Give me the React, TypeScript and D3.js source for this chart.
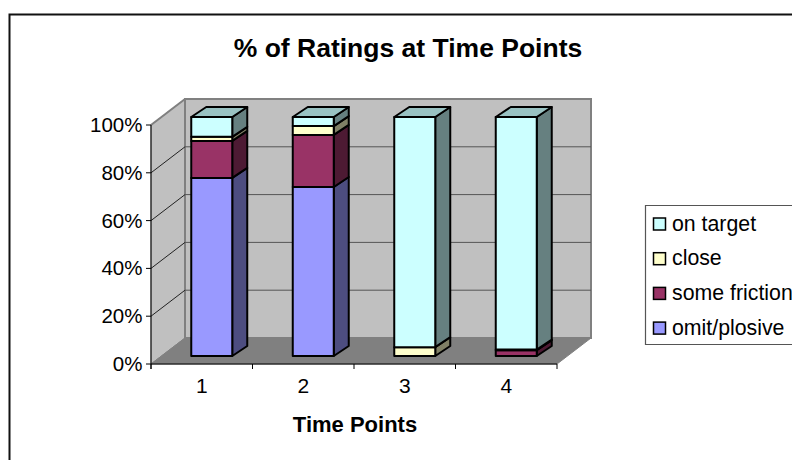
import React from "react";
import * as d3 from "d3";

const categories = ["1", "2", "3", "4"];
const seriesNames = ["omit/plosive", "some friction", "close", "on target"];
const omitPlosive = [74.5, 70.7, 0, 0];
const someFriction = [15.5, 21.8, 0, 2.4];
const close = [1.7, 3.7, 3.7, 0.3];
const onTarget = [8.3, 3.8, 96.3, 97.3];
const yTicks = [0, 20, 40, 60, 80, 100];

const frontColors = ["#9999ff", "#993366", "#ffffcc", "#ccffff"];
const sideColors = ["#4d4d80", "#4d1a33", "#808066", "#668080"];
const topColors = ["#9999cc", "#7a2952", "#cccca3", "#99c2c2"];

const W = 792;
const H = 460;
const depthX = 34;
const depthY = -26;
const barDepthX = 15;
const barDepthY = -10;
const barShift = 10;

export default function App() {
  const x = d3.scaleBand<string>().domain(categories).range([151, 557]).paddingInner(0).paddingOuter(0);
  const axisY = d3.scaleLinear().domain([0, 100]).range([364, 125]);
  const barY = d3.scaleLinear().domain([0, 100]).range([356, 117]);
  const barWidth = 41;

  const rows = categories.map((c, i) => ({
    c,
    omit: omitPlosive[i],
    friction: someFriction[i],
    close: close[i],
    target: onTarget[i],
  }));
  const stacked = d3.stack<any>().keys(["omit", "friction", "close", "target"])(rows);

  const x0 = x.range()[0];
  const x1 = x.range()[1];
  const y0 = axisY(0);
  const y100 = axisY(100);
  const poly = (pts: [number, number][]) => pts.map((p) => p.join(",")).join(" ");

  const legendRows = [3, 2, 1, 0];

  return (
    <svg
      width={W}
      height={H}
      style={{ position: "absolute", left: 0, top: 0, fontFamily: "'Liberation Sans', Arial, sans-serif" }}
    >
      <rect width={W} height={H} fill="#fff" />
      <path d={`M9.5,${H} V14.5 H${W}`} fill="none" stroke="#111" strokeWidth={2} />

      <text x={408} y={57} textAnchor="middle" fontSize={26.5} fontWeight="bold" fill="#000">
        % of Ratings at Time Points
      </text>

      {/* Side wall, back wall and floor of the 3D plot */}
      <polygon
        points={poly([[x0, y0], [x0 + depthX, y0 + depthY], [x0 + depthX, y100 + depthY], [x0, y100]])}
        fill="#c0c0c0"
        stroke="#808080"
      />
      <polygon
        points={poly([[x0 + depthX, y0 + depthY], [x1 + depthX, y0 + depthY], [x1 + depthX, y100 + depthY], [x0 + depthX, y100 + depthY]])}
        fill="#c0c0c0"
        stroke="#808080"
        strokeWidth={2}
      />
      <polygon
        points={poly([[x0, y0], [x1, y0], [x1 + depthX, y0 + depthY], [x0 + depthX, y0 + depthY]])}
        fill="#808080"
        stroke="#808080"
      />

      {/* Gridlines wrapping from the side wall onto the back wall */}
      {yTicks.slice(1, -1).map((t) => (
        <g key={t} fill="none">
          <line x1={x0} y1={axisY(t)} x2={x0 + depthX} y2={axisY(t) + depthY} stroke="#222" />
          <line x1={x0 + depthX} y1={axisY(t) + depthY} x2={x1 + depthX} y2={axisY(t) + depthY} stroke="#555" />
        </g>
      ))}
      <line x1={x0} y1={y100} x2={x0 + depthX} y2={y100 + depthY} stroke="#808080" strokeWidth={2} />

      {/* Stacked 3D columns */}
      {stacked.map((layer, s) =>
        layer.map((d, i) => {
          if (d[1] - d[0] <= 0) return null;
          const left = x(categories[i])! + (x.bandwidth() - barWidth) / 2 + barShift;
          const right = left + barWidth;
          const b = barY(d[0]);
          const t = barY(d[1]);
          const isTop = d[1] >= 99.95;
          return (
            <g key={`${s}-${i}`} stroke="#000" strokeWidth={2} strokeLinejoin="round">
              <polygon
                points={poly([[right, b], [right + barDepthX, b + barDepthY], [right + barDepthX, t + barDepthY], [right, t]])}
                fill={sideColors[s]}
              />
              {isTop && (
                <polygon
                  points={poly([[left, t], [right, t], [right + barDepthX, t + barDepthY], [left + barDepthX, t + barDepthY]])}
                  fill={topColors[s]}
                />
              )}
              <rect x={left} y={t} width={barWidth} height={b - t} fill={frontColors[s]} />
            </g>
          );
        })
      )}

      {/* Value axis */}
      <line x1={x0} y1={y100} x2={x0} y2={y0 + 5} stroke="#000" />
      {yTicks.map((t) => (
        <g key={t}>
          <line x1={x0 - 5} x2={x0} y1={axisY(t)} y2={axisY(t)} stroke="#000" />
          <text x={142.5} y={axisY(t) + 7} textAnchor="end" fontSize={20.5} fill="#000">
            {t}%
          </text>
        </g>
      ))}

      {/* Category axis */}
      <line x1={x0} x2={x1} y1={y0} y2={y0} stroke="#000" />
      {[...categories.map((c) => x(c)!), x1].map((p, i) => (
        <line key={i} x1={p} x2={p} y1={y0} y2={y0 + 5} stroke="#000" />
      ))}
      {categories.map((c) => (
        <text key={c} x={x(c)! + x.bandwidth() / 2} y={393} textAnchor="middle" fontSize={21} fill="#000">
          {c}
        </text>
      ))}
      <text x={355} y={432} textAnchor="middle" fontSize={22} fontWeight="bold" fill="#000">
        Time Points
      </text>

      {/* Legend */}
      <path d={`M${W},205.5 H645.5 V344.5 H${W}`} fill="#fff" stroke="#555" strokeWidth={1.2} />
      {legendRows.map((s, i) => {
        const cy = 224 + i * 34.7;
        return (
          <g key={s}>
            <rect x={653.5} y={cy - 6} width={12} height={12} fill={frontColors[s]} stroke="#000" strokeWidth={1.5} />
            <text x={672} y={cy + 6.5} fontSize={21.3} fill="#000">
              {seriesNames[s]}
            </text>
          </g>
        );
      })}
    </svg>
  );
}
